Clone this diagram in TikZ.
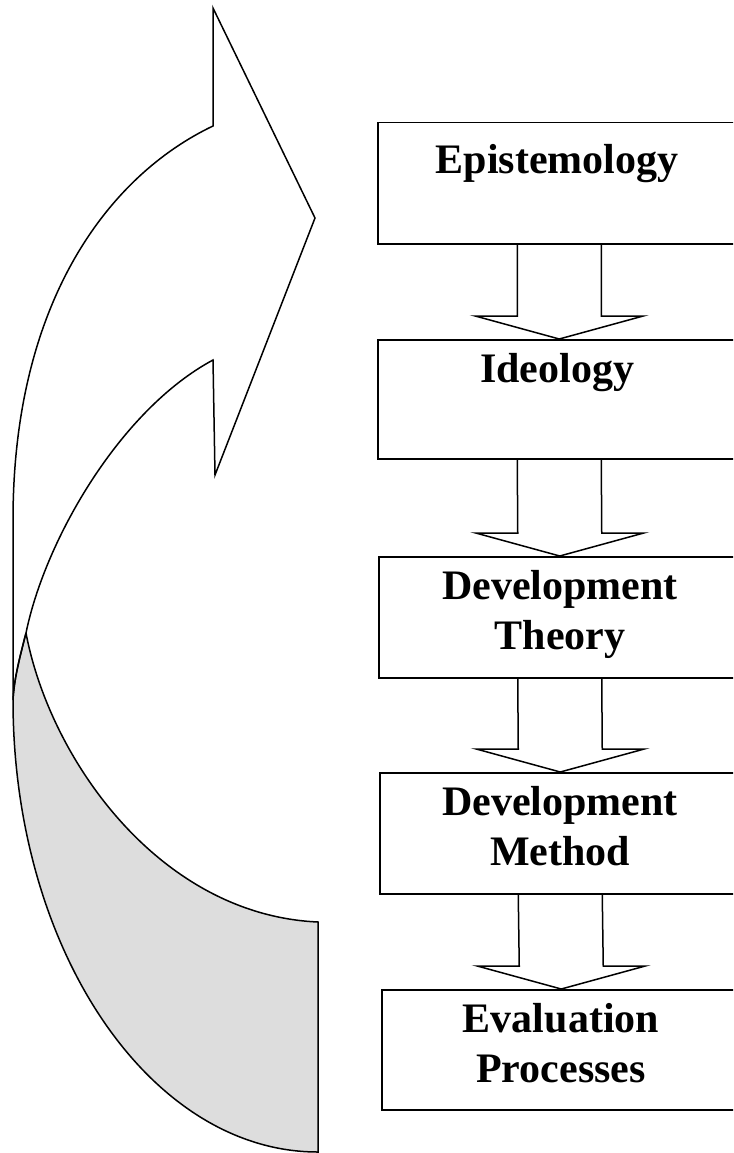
\documentclass[tikz,border=0pt]{standalone}
\usepackage{fontspec}
\setmainfont{Liberation Serif}
\usetikzlibrary{calc}
\definecolor{tailgray}{RGB}{221,221,221}
\tikzset{
  box/.style={draw, line width=1.5pt, rectangle, anchor=north west, inner sep=0pt},
  lbl/.style={font=\fontsize{42}{50}\selectfont\bfseries, anchor=base, align=center, inner sep=0pt},
  outline/.style={line width=1.5pt, line join=miter},
  barrow/.style={line width=1.5pt, line join=miter, to path={
    ($(\tikztostart)+(-42,0)$) -- ($(\tikztotarget)+(-42,-23)$) -- ($(\tikztotarget)+(-84,-23)$)
    -- (\tikztotarget) -- ($(\tikztotarget)+(84,-23)$) -- ($(\tikztotarget)+(42,-23)$)
    -- ($(\tikztostart)+(42,0)$)}},
}
\begin{document}
\begin{tikzpicture}[x=1pt,y=-1pt]
\useasboundingbox (0,0) rectangle (733,1153);
\clip (0,0) rectangle (733,1153);

% curved arrow: shaded back part
\fill[tailgray] (26,633) .. controls (19,660) and (14,680) .. (13,700)
  .. controls (13,950) and (150,1152) .. (318,1152) -- (318,922)
  .. controls (160,915) and (50,760) .. (26,633) -- cycle;
\draw[outline] (26,633) .. controls (19,660) and (14,680) .. (13,700)
  .. controls (13,950) and (150,1152) .. (318,1152) -- (318,922)
  .. controls (160,915) and (50,760) .. (26,633);

% curved arrow: front part with head
\draw[outline] (13,700) -- (13,520) .. controls (13,300) and (110,175) .. (213,126)
  -- (213,8) -- (315,218) -- (215,475) -- (213,360)
  .. controls (120,410) and (45,540) .. (26,633)
  .. controls (19,660) and (14,680) .. (13,700) -- cycle;

% boxes
\node[box, minimum width=363pt, minimum height=121pt] (b1) at (377,122) {};
\node[box, minimum width=363pt, minimum height=119pt] (b2) at (377,339) {};
\node[box, minimum width=362pt, minimum height=121pt] (b3) at (378,556) {};
\node[box, minimum width=361pt, minimum height=121pt] (b4) at (379,772) {};
\node[box, minimum width=359pt, minimum height=120pt] (b5) at (381,989) {};

% labels (anchor=base is the last line's baseline)
\node[lbl] (t1) at (557,173) {Epistemology};
\node[lbl] (t2) at (557,382) {Ideology};
\node[lbl] (t3) at (560,649) {Development\\Theory};
\node[lbl] (t4) at (560,865) {Development\\Method};
\node[lbl] (t5) at (561,1082) {Evaluation\\Processes};

% block arrows
\draw[barrow] (b1.south) to (b2.north);
\draw[barrow] (b2.south) to (b3.north);
\draw[barrow] (b3.south) to (b4.north);
\draw[barrow] (b4.south) to (b5.north);
\end{tikzpicture}
\end{document}
